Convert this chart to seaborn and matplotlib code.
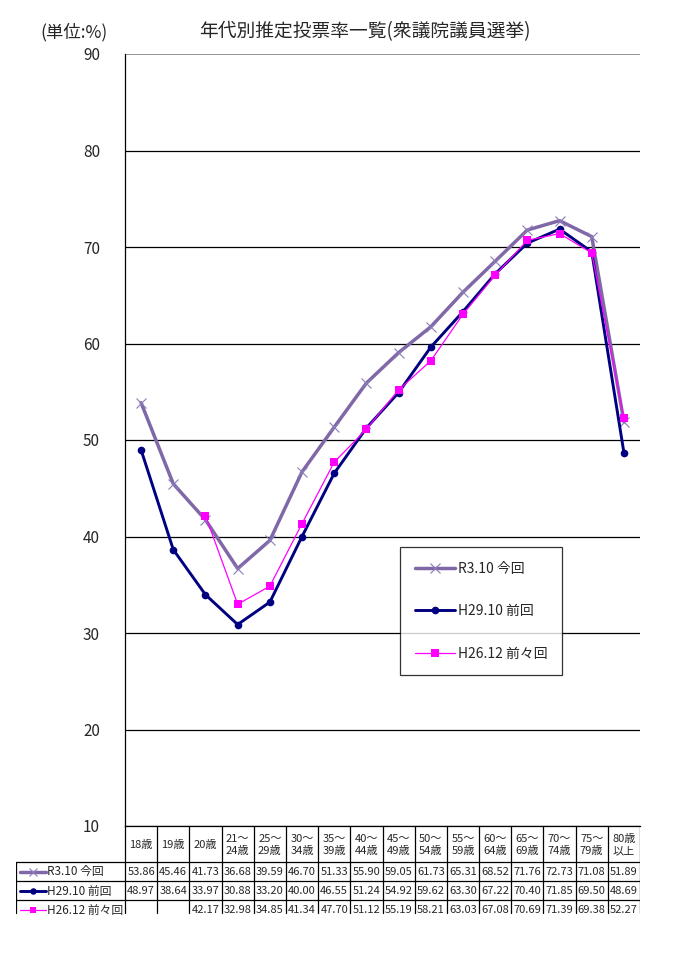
import numpy as np
import pandas as pd
import matplotlib
matplotlib.use("Agg")
import matplotlib.pyplot as plt
import seaborn as sns

# ---------------- data ----------------
categories = ["18歳", "19歳", "20歳", "21～\n24歳", "25～\n29歳", "30～\n34歳",
              "35～\n39歳", "40～\n44歳", "45～\n49歳", "50～\n54歳", "55～\n59歳",
              "60～\n64歳", "65～\n69歳", "70～\n74歳", "75～\n79歳", "80歳\n以上"]
r3_values = [53.86, 45.46, 41.73, 36.68, 39.59, 46.70, 51.33, 55.90, 59.05, 61.73,
             65.31, 68.52, 71.76, 72.73, 71.08, 51.89]
h29_values = [48.97, 38.64, 33.97, 30.88, 33.20, 40.00, 46.55, 51.24, 54.92, 59.62,
              63.30, 67.22, 70.40, 71.85, 69.50, 48.69]
h26_values = [np.nan, np.nan, 42.17, 32.98, 34.85, 41.34, 47.70, 51.12, 55.19, 58.21,
              63.03, 67.08, 70.69, 71.39, 69.38, 52.27]
series_names = ["R3.10 今回", "H29.10 前回", "H26.12 前々回"]
y_ticks = [10, 20, 30, 40, 50, 60, 70, 80, 90]
title = "年代別推定投票率一覧(衆議院議員選挙)"
unit_label = "(単位:%)"

# ---------------- style ----------------
sns.set_style("white")
plt.rcParams['font.family'] = ['Noto Sans CJK JP', 'DejaVu Sans']

colors = ["#8068A8", "#000080", "#FF00FF"]
styles = [dict(lw=2.5, marker="x", ms=7, mew=0.8, mec="#8C7CB8"),
          dict(lw=2.1, marker="o", ms=5.5, mew=0),
          dict(lw=0.9, marker="s", ms=5.5, mew=0)]

W, H = 673, 966
fig = plt.figure(figsize=(W / 100, H / 100), dpi=100)

ax_left, ax_right, ax_top, ax_bottom = 125, 640, 54, 826
ax = fig.add_axes([ax_left / W, 1 - ax_bottom / H, (ax_right - ax_left) / W,
                   (ax_bottom - ax_top) / H])

x_idx = np.arange(len(categories))
all_values = [r3_values, h29_values, h26_values]
for name, vals, col, st in zip(series_names, all_values, colors, styles):
    df = pd.DataFrame({"x": x_idx, "y": vals}).dropna()
    sns.lineplot(data=df, x="x", y="y", ax=ax, color=col, label=name,
                 linewidth=st["lw"], marker=st["marker"], markersize=st["ms"],
                 markeredgewidth=st["mew"],
                 markeredgecolor=st.get("mec", col), sort=False)

ax.set_xlim(-0.5, len(categories) - 0.5)
ax.set_ylim(10, 90)
ax.set_yticks(y_ticks)
ax.set_xticks([])
ax.set_xlabel("")
ax.set_ylabel("")
ax.tick_params(axis="y", length=0, pad=18, labelsize=11)
ax.yaxis.grid(True, color="black", linewidth=0.9)
ax.set_axisbelow(True)
gl = ax.yaxis.get_gridlines()
gl[-1].set_color("#808080")
gl[-1].set_linewidth(1.2)
for s in ["top", "right"]:
    ax.spines[s].set_visible(False)
ax.spines["left"].set_color("black")
ax.spines["bottom"].set_color("black")
ax.spines["left"].set_linewidth(0.9)
ax.spines["bottom"].set_linewidth(0.9)

leg = ax.legend(loc="upper left", bbox_to_anchor=(400 / W, 1 - 547 / H),
                bbox_transform=fig.transFigure, frameon=True, fancybox=False,
                edgecolor="black", fontsize=10, labelspacing=2.05,
                borderpad=1.05, handlelength=2.9, handletextpad=0.2,
                borderaxespad=0)
leg.get_frame().set_linewidth(0.9)
leg.set_zorder(10)

fig.text(365 / W, 1 - 32 / H, title, ha="center", va="center", fontsize=13.5)
fig.text(74 / W, 1 - 32 / H, unit_label, ha="center", va="center", fontsize=12.5)

# ---------------- data table ----------------
tab_left, tab_top, tab_bottom = 16, 826, 919
tab = fig.add_axes([tab_left / W, 1 - tab_bottom / H, (ax_right - tab_left) / W,
                    (tab_bottom - tab_top) / H])
cw = (ax_right - ax_left) / len(categories)
xl = -0.5 - (ax_left - tab_left) / cw
tab.set_xlim(xl, len(categories) - 0.5)
tab.set_ylim(tab_bottom - tab_top, 0)
tab.axis("off")

hdr_h, row_h = 36, 19
row_tops = [hdr_h, hdr_h + row_h, hdr_h + 2 * row_h]
bottom_y = hdr_h + 3 * row_h - 6
lc = dict(color="black", linewidth=0.9)
for k in range(len(categories) + 1):
    tab.plot([k - 0.5, k - 0.5], [0, bottom_y], **lc)
tab.plot([xl, xl], [hdr_h, bottom_y], **lc)
for yt in row_tops:
    tab.plot([xl, len(categories) - 0.5], [yt, yt], **lc)

for i, c in enumerate(categories):
    tab.text(i, hdr_h / 2 + 1, c, ha="center", va="center", fontsize=8,
             linespacing=1.35)
for r, (name, vals, col, st) in enumerate(zip(series_names, all_values, colors, styles)):
    yc = row_tops[r] + row_h / 2
    for i, v in enumerate(vals):
        if not np.isnan(v):
            tab.text(i, yc + 0.5, f"{v:.2f}", ha="center", va="center", fontsize=8)
    x0 = xl + 4 / cw
    x1 = xl + 30 / cw
    tab.plot([x0, x1], [yc, yc], color=col, linewidth=st["lw"])
    tab.plot([(x0 + x1) / 2], [yc], marker=st["marker"], color=col,
             markersize=st["ms"] * 0.85, markeredgewidth=st["mew"],
             markeredgecolor=st.get("mec", col), linestyle="none")
    tab.text(xl + 31 / cw, yc + 0.5, name, ha="left", va="center", fontsize=8.5)

fig.savefig("out.png", dpi=100)
